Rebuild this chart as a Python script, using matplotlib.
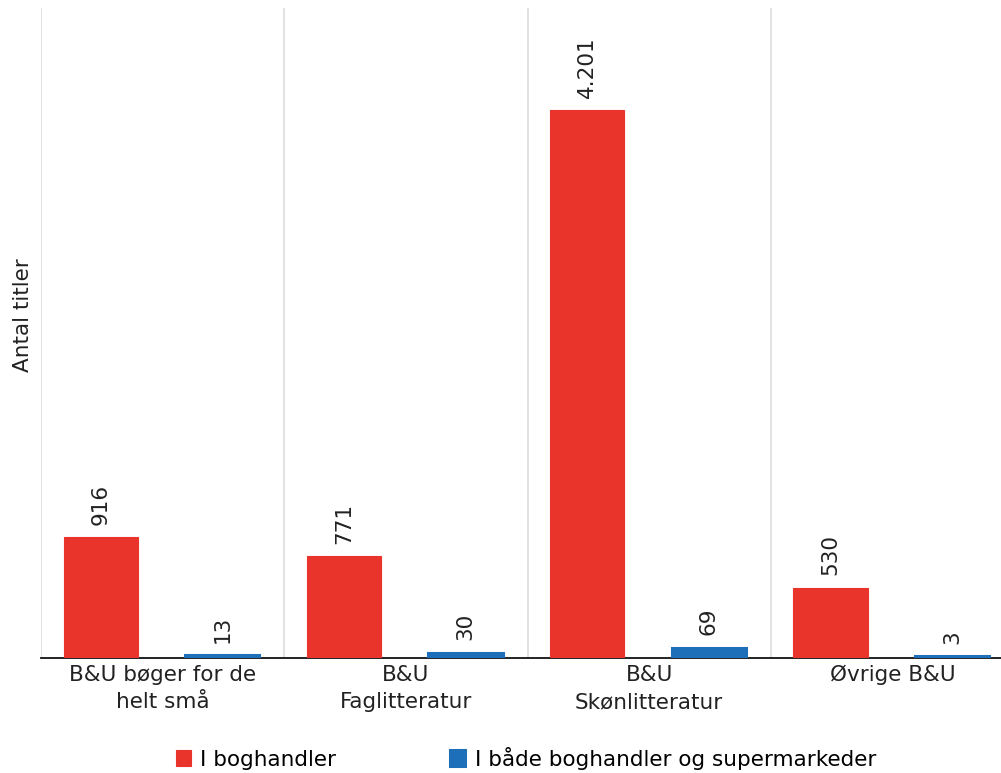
import matplotlib.pyplot as plt
import numpy as np

categories = ['B&U bøger for de\nhelt små', 'B&U\nFaglitteratur', 'B&U\nSkønlitteratur', 'Øvrige B&U']
boghandler = [916, 771, 4201, 530]
begge = [13, 30, 69, 3]
series_names = ['I boghandler', 'I både boghandler og supermarkeder']

red = '#E8342B'
blue = '#1E6FBA'

plt.rcParams['font.family'] = ['DejaVu Sans']

fig = plt.figure(figsize=(10.01, 7.73), dpi=100)
ax = fig.add_axes([41 / 1001, 1 - 658 / 773, 960 / 1001, 650 / 773])

x = np.arange(len(categories))
w = 0.305
# thin edge keeps the tiny values visible, as in the original
b1 = ax.bar(x - 0.255, boghandler, w, color=red, edgecolor=red, lw=0.8, label=series_names[0], zorder=2)
b2 = ax.bar(x + 0.245, begge, w, color=blue, edgecolor=blue, lw=2.2, label=series_names[1], zorder=2)

def fmt(v):
    return f'{v:,}'.replace(',', '.')

for bars, vals in ((b1, boghandler), (b2, begge)):
    for r, v in zip(bars, vals):
        ax.annotate(fmt(v), (r.get_x() + r.get_width() / 2, v), xytext=(0, 9),
                    textcoords='offset points', rotation=90, ha='center', va='bottom',
                    fontsize=15.5, color='#222222')

ax.set_xlim(-0.5, 3.446)
ax.set_ylim(-10, 4985)
for gx in np.arange(-0.5, 3.0, 1.0):
    ax.axvline(gx, color='#dddddd', lw=1.2, zorder=1)

ax.set_xticks(x)
ax.set_xticklabels(categories, fontsize=15.5, color='#222222', linespacing=1.45)
ax.tick_params(axis='x', length=0, pad=5)
ax.set_yticks([])
for s in ('top', 'right', 'left'):
    ax.spines[s].set_visible(False)
ax.spines['bottom'].set_color('#111111')
ax.spines['bottom'].set_linewidth(1.3)
ax.spines['bottom'].set_zorder(1.5)

ax.set_ylabel('Antal titler', fontsize=15.5, color='#222222')
ax.yaxis.set_label_coords(-0.008, 0.528)

fig.legend(handles=[b1, b2], labels=series_names, loc='center', bbox_to_anchor=(526 / 1001, 1 - 758 / 773),
           ncol=2, frameon=False, fontsize=15.5, handlelength=0.7, handleheight=0.7,
           handletextpad=0.45, columnspacing=5.3)

fig.savefig('out.png', dpi=100)
